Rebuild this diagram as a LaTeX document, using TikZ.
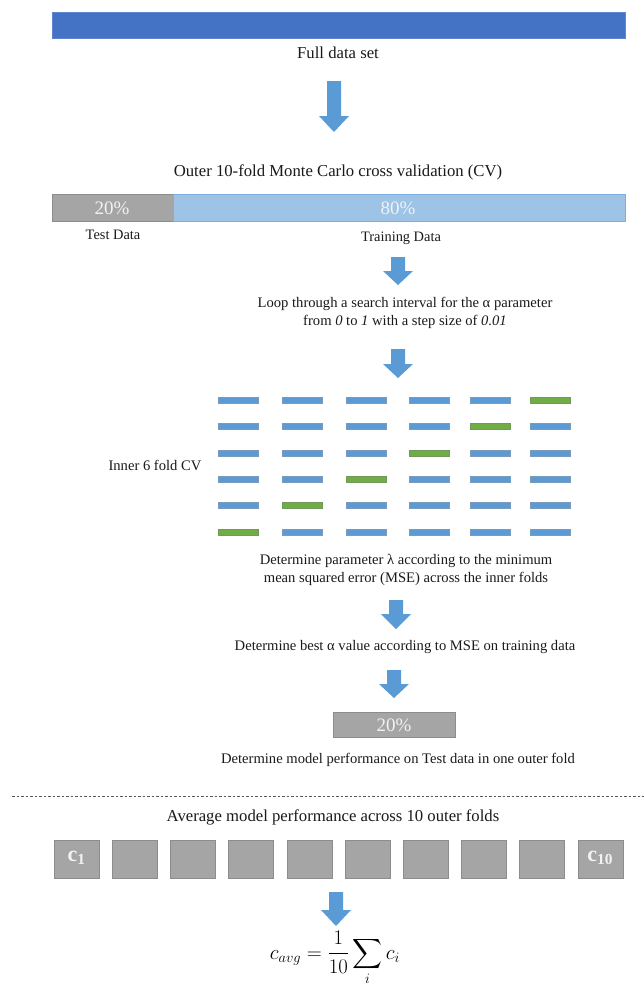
\documentclass[tikz,border=0pt]{standalone}
\usepackage{fontspec}
\setmainfont{Liberation Serif}
\usepackage{amsmath}
\definecolor{fullblue}{HTML}{4472C4}
\definecolor{arrowblue}{HTML}{5B9BD5}
\definecolor{lightblue}{HTML}{9DC3E6}
\definecolor{foldgray}{HTML}{A5A5A5}
\definecolor{foldgrayedge}{HTML}{8C8C8C}
\definecolor{barblue}{HTML}{5B9BD5}
\definecolor{barblueedge}{HTML}{41719C}
\definecolor{bargreen}{HTML}{70AD47}
\definecolor{bargreenedge}{HTML}{507E32}
\definecolor{txt}{HTML}{1A1A1A}
\newcommand\blockarrow[4]{%
  \fill[arrowblue] ({#1-7},{#2}) -- ({#1+7},{#2}) -- ({#1+7},{#3}) -- ({#1+15},{#3})
    -- ({#1},{#4}) -- ({#1-15},{#3}) -- ({#1-7},{#3}) -- cycle;}
\begin{document}
\begin{tikzpicture}[x=1pt,y=-1pt,
  lbl/.style={text=txt,font=\fontsize{14.6}{17.5}\selectfont,align=center,inner sep=0pt},
  head/.style={text=txt,font=\fontsize{16.7}{20}\selectfont,align=center,inner sep=0pt},
  small/.style={text=txt,font=\fontsize{14.4}{17}\selectfont,inner sep=0pt},
  pct/.style={text=white!95!black,font=\fontsize{19}{21}\selectfont,inner sep=0pt},
  clabel/.style={text=white!95!black,font=\bfseries\fontsize{22}{24}\selectfont,inner sep=0pt},
  fullbox/.style={fill=fullblue,draw=fullblue!85!white,line width=0.6pt},
  graybox/.style={fill=foldgray,draw=foldgrayedge,line width=0.6pt},
  lbbox/.style={fill=lightblue,draw=arrowblue!80!white,line width=0.6pt},
  bluebar/.style={fill=barblue,draw=barblueedge!70!white,line width=0.5pt},
  greenbar/.style={fill=bargreen,draw=bargreenedge!80!white,line width=0.5pt}]
\useasboundingbox (0,0) rectangle (644,986);
\fill[white] (0,0) rectangle (644,986);

% full data set
\draw[fullbox] (52,12) rectangle (625,38);
\node[head] (full) at (338,53) {Full data set};
\blockarrow{334}{81}{116}{132}

% outer CV
\node[head] (outer) at (338,172) {Outer 10-fold Monte Carlo cross validation (CV)};
\draw[graybox] (52,194) rectangle (173,221);
\draw[lbbox] (173,194) rectangle (625,221);
\node[pct] (p20a) at (112,208) {20\%};
\node[pct] (p80) at (398,208) {80\%};
\node[small] (test) at (113,235) {Test Data};
\node[small] (train) at (401,238) {Training Data};
\blockarrow{398}{257}{271}{285}

\node[lbl] (loop) at (405,313) {Loop through a search interval for the α parameter\\
  from \textit{0} to \textit{1} with a step size of \textit{0.01}};
\blockarrow{398}{349}{364}{378}

% inner CV grid
\node[lbl] (inner) at (155,465) {Inner 6 fold CV};
\foreach \r/\yy in {1/400,2/426.5,3/453,4/479,5/505.5,6/532}{
  \foreach \c/\xx in {1/218,2/282,3/346,4/409,5/470,6/530}{
    \pgfmathtruncatemacro\sumrc{\r+\c}
    \ifnum\sumrc=7
      \draw[greenbar] (\xx,{\yy-3}) rectangle ({\xx+40},{\yy+3});
    \else
      \draw[bluebar] (\xx,{\yy-3}) rectangle ({\xx+40},{\yy+3});
    \fi
  }
}

\node[lbl] (lambda) at (406,570) {Determine parameter λ according to the minimum\\
  mean squared error (MSE) across the inner folds};
\blockarrow{396}{600}{614}{629}
\node[lbl] (best) at (405,647) {Determine best α value according to MSE on training data};
\blockarrow{394}{670}{684}{698}
\draw[graybox] (333,712) rectangle (455,737);
\node[pct] (p20b) at (394,725) {20\%};
\node[lbl] (perf) at (398,760) {Determine model performance on Test data in one outer fold};

% separator
\draw[gray!70!black,line width=0.8pt,dash pattern=on 2.5pt off 2pt] (12,796) -- (644,796);

\node[head] (avg) at (333,817) {Average model performance across 10 outer folds};
\foreach \i in {0,...,9}{
  \draw[graybox] ({54+58.2*\i},840) rectangle ({99+58.2*\i},878);
}
\node[clabel] (c1) at (76.5,858) {c\textsubscript{1}};
\node[clabel] (c10) at (600.3,858) {c\textsubscript{10}};
\blockarrow{336}{892}{910}{926}
\node[inner sep=0pt,anchor=base,font=\fontsize{20.5}{25}\selectfont] (formula) at (335,959)
  {$\displaystyle c_{avg} = \frac{1}{10}\sum_i c_i$};
\end{tikzpicture}
\end{document}
